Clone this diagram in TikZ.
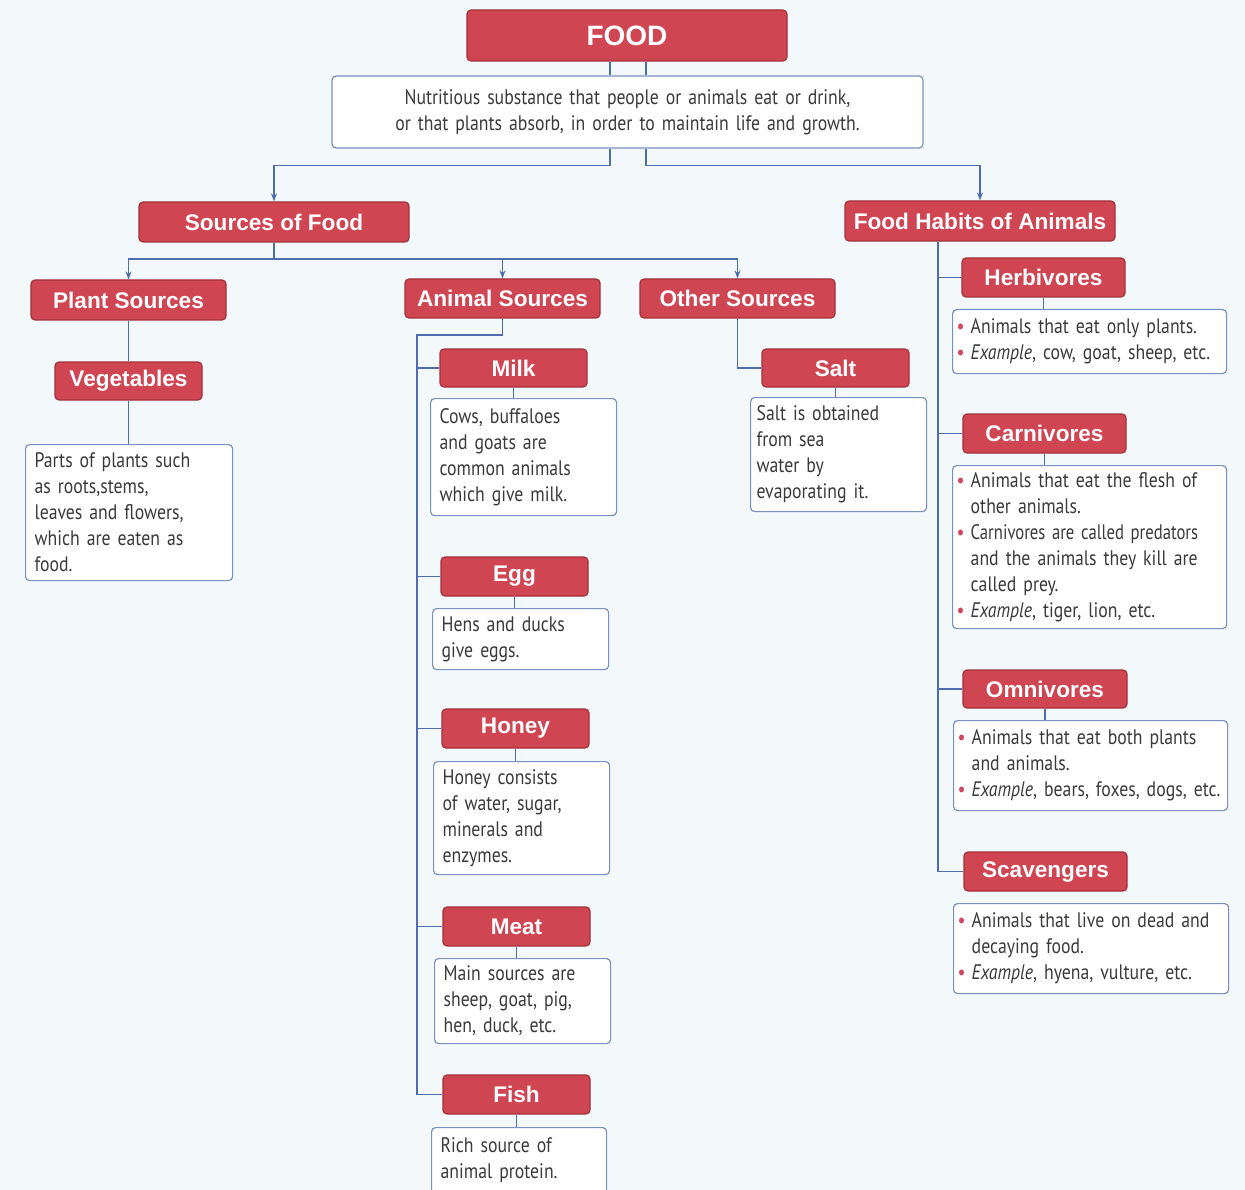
\documentclass[tikz,border=0pt]{standalone}
\usepackage{fontspec}
\usepackage{xcolor}
\usepackage{graphicx}
\usetikzlibrary{arrows.meta}
\newfontfamily\titlefont{Liberation Sans}
\newfontfamily\bodyfont{PT Sans}[FakeStretch=0.845]
\definecolor{bgc}{HTML}{F3F8FB}
\definecolor{boxred}{HTML}{CF4552}
\definecolor{boxredd}{HTML}{A3313B}
\definecolor{linec}{HTML}{4F6DAD}
\definecolor{tbord}{HTML}{7A90C0}
\definecolor{txtc}{HTML}{3A3A3A}
\definecolor{bulred}{HTML}{D24560}
\newcommand\bul{\makebox[0.72em][l]{\hspace*{1pt}\textcolor{bulred}{\textbullet}}}
\newcommand\ind{\hspace*{0.72em}}
\newcommand\bodyset{\bodyfont\fontsize{21}{26}\selectfont\spaceskip=3.8pt plus 1pt minus 0.5pt\relax\hyphenpenalty=10000\relax}
\begin{document}
\begin{tikzpicture}[x=1pt,y=-1pt,
  redbox/.style={rectangle, rounded corners=4pt, fill=boxred, draw=boxredd, line width=1.2pt,
    text=white, font=\titlefont\bfseries\fontsize{22.6}{26}\selectfont, inner sep=0pt},
  txtbox/.style={rectangle, rounded corners=4pt, fill=white, draw=tbord, line width=1.2pt,
    text=txtc, font=\bodyset, align=left, inner xsep=9pt, inner ysep=2pt, anchor=north west},
  bulbox/.style={txtbox, inner xsep=3pt},
  conn/.style={draw=linec, line width=1.4pt},
  arr/.style={conn, -{Stealth[length=8pt,width=6pt]}}]
\path[use as bounding box, fill=bgc] (0,0) rectangle (1245,1190);

% top
\node[redbox, minimum width=320, minimum height=51, font=\titlefont\bfseries\fontsize{28}{30}\selectfont] (food) at (627,35.5) {FOOD};
\node[txtbox, anchor=center, align=center, minimum width=591, minimum height=72, text width=573] (def) at (627.5,112)
  {Nutritious substance that people or animals eat or drink,\\ or that plants absorb, in order to maintain life and growth.};
\coordinate (fl) at (610,0);
\coordinate (fr) at (646,0);
\draw[conn] (food.south -| fl) -- (def.north -| fl);
\draw[conn] (food.south -| fr) -- (def.north -| fr);

\node[redbox, minimum width=270, minimum height=40] (src) at (274,222) {Sources of Food};
\node[redbox, minimum width=270, minimum height=40] (hab) at (980,221) {Food Habits of Animals};
\draw[arr] (def.south -| fl) -- ++(0,17) -| (src.north);
\draw[arr] (def.south -| fr) -- ++(0,17) -| (hab.north);

% sources
\node[redbox, minimum width=195, minimum height=40] (plant) at (128.5,300) {Plant Sources};
\node[redbox, minimum width=195, minimum height=39] (animal) at (502.5,298.5) {Animal Sources};
\node[redbox, minimum width=195, minimum height=39] (other) at (737.5,298.5) {Other Sources};
\coordinate (sj) at (274,259);
\draw[conn] (src.south) -- (sj);
\draw[arr] (sj) -| (plant.north);
\draw[arr] (sj) -| (animal.north);
\draw[arr] (sj) -| (other.north);

% plant
\node[redbox, minimum width=147, minimum height=38] (veg) at (128.5,381) {Vegetables};
\node[txtbox, minimum width=207, minimum height=136, text width=189] (vegtxt) at (25,444)
  {Parts of plants such\\ as roots,stems,\\ leaves and flowers,\\ which are eaten as\\ food.};
\draw[conn] (plant.south) -- (veg.north);
\draw[conn] (veg.south) -- (veg.south |- vegtxt.north);

% animal
\node[redbox, minimum width=147, minimum height=38] (milk) at (513.5,368) {Milk};
\node[txtbox, minimum width=186, minimum height=117, text width=168] (milktxt) at (430,398)
  {Cows, buffaloes\\ and goats are\\ common animals\\ which give milk.};
\node[redbox, minimum width=147, minimum height=39] (egg) at (514.5,576.5) {Egg};
\node[txtbox, minimum width=176, minimum height=61, text width=158] (eggtxt) at (432,608)
  {Hens and ducks\\ give eggs.};
\node[redbox, minimum width=147, minimum height=39] (honey) at (515.5,728.5) {Honey};
\node[txtbox, minimum width=176, minimum height=113, text width=158] (honeytxt) at (433,761)
  {Honey consists\\ of water, sugar,\\ minerals and\\ enzymes.};
\node[redbox, minimum width=147, minimum height=39] (meat) at (516.5,926.5) {Meat};
\node[txtbox, minimum width=176, minimum height=85, text width=158] (meattxt) at (434,958)
  {Main sources are\\ sheep, goat, pig,\\ hen, duck, etc.};
\node[redbox, minimum width=147, minimum height=39] (fish) at (516.5,1094.5) {Fish};
\node[txtbox, minimum width=175, minimum height=66, text width=157] (fishtxt) at (431,1127)
  {Rich source of\\ animal protein.};
\coordinate (aj) at (417,335);
\draw[conn] (animal.south) |- (aj) -- (aj |- fish.west) -- (fish.west);
\foreach \n in {milk,egg,honey,meat}{\draw[conn] (aj |- \n.west) -- (\n.west);}
\foreach \n in {milk,egg,honey,meat,fish}{\draw[conn] (\n.south) -- (\n.south |- \n txt.north);}

% other
\node[redbox, minimum width=147, minimum height=38] (salt) at (835.5,368) {Salt};
\node[txtbox, minimum width=176, minimum height=114, text width=164, inner xsep=6pt] (salttxt) at (750,397)
  {Salt is obtained\\ from sea\\ water by\\ evaporating it.};
\draw[conn] (other.south) |- (salt.west);
\draw[conn] (salt.south) -- (salt.south |- salttxt.north);

% food habits
\node[redbox, minimum width=163, minimum height=39] (herb) at (1043.5,277.5) {Herbivores};
\node[bulbox, minimum width=274, minimum height=64, text width=268] (herbtxt) at (952,309)
  {\bul Animals that eat only plants.\\ \bul\textit{Example}, cow, goat, sheep, etc.};
\node[redbox, minimum width=163, minimum height=39] (carn) at (1044.5,433.5) {Carnivores};
\node[bulbox, minimum width=274, minimum height=163, text width=268] (carntxt) at (952,465)
  {\bul Animals that eat the flesh of\\ \ind other animals.\\ \bul\scalebox{0.94}[1]{Carnivores are called predators}\\ \ind and the animals they kill are\\ \ind called prey.\\ \bul\textit{Example}, tiger, lion, etc.};
\node[redbox, minimum width=164, minimum height=38] (omni) at (1045,689) {Omnivores};
\node[bulbox, minimum width=274, minimum height=90, text width=268] (omnitxt) at (953,720)
  {\bul Animals that eat both plants\\ \ind and animals.\\ \bul\textit{Example}, bears, foxes, dogs, etc.};
\node[redbox, minimum width=163, minimum height=39] (scav) at (1045.5,871.5) {Scavengers};
\node[bulbox, minimum width=275, minimum height=90, text width=269] (scavtxt) at (953,903)
  {\bul Animals that live on dead and\\ \ind decaying food.\\ \bul\textit{Example}, hyena, vulture, etc.};
\coordinate (hj) at (938,0);
\draw[conn] (hab.south -| hj) |- (scav.west);
\foreach \n in {herb,carn,omni}{\draw[conn] (\n.west -| hj) -- (\n.west);}
\foreach \n in {herb,carn,omni}{\draw[conn] (\n.south) -- (\n.south |- \n txt.north);}
\end{tikzpicture}
\end{document}
